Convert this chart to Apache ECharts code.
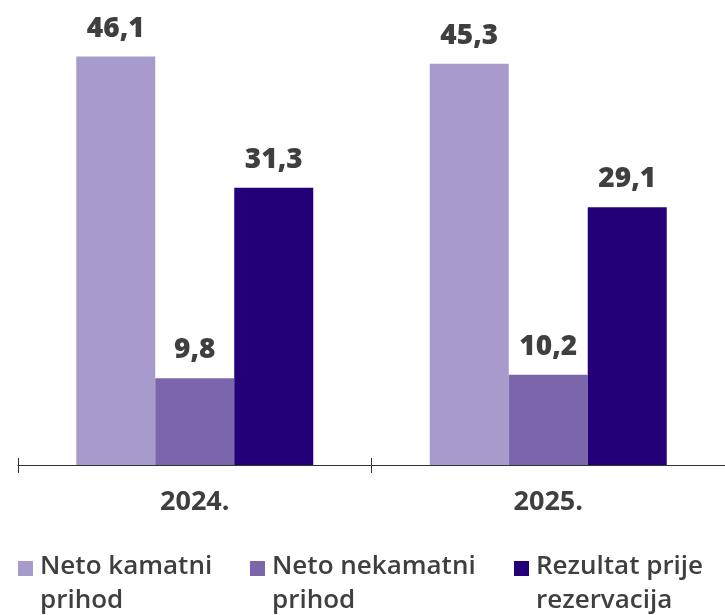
<!DOCTYPE html>
<html>
<head>
<meta charset="utf-8">
<script src="https://cdn.jsdelivr.net/npm/echarts@6/dist/echarts.min.js"></script>
<style>
  html, body { margin: 0; padding: 0; background: #fff; }
  #chart { width: 725px; height: 615px; }
</style>
</head>
<body>
<div id="chart"></div>
<script>
// podaci
const years = ['2024.', '2025.'];
const seriesNames = ['Neto kamatni\nprihod', 'Neto nekamatni\nprihod', 'Rezultat prije\nrezervacija'];
const netoKamatni = [46.1, 45.3];
const netoNekamatni = [9.8, 10.2];
const rezultatPrije = [31.3, 29.1];

const colors = ['#A89BCB', '#7B66AB', '#230078'];
const textColor = '#3F3F3F';
const fontFamily = '"Open Sans", "Noto Sans", sans-serif';

const chart = echarts.init(document.getElementById('chart'));

function fmt(v) {
    return v.toFixed(1).replace('.', ',');
}

function makeSeries(name, data, color) {
    return {
        name: name,
        type: 'bar',
        data: data,
        barWidth: 79,
        barGap: '0%',
        itemStyle: { color: color },
        label: {
            show: true,
            position: 'top',
            distance: 14,
            color: textColor,
            fontFamily: fontFamily,
            fontWeight: 800,
            fontSize: 28,
            formatter: (p) => fmt(p.value)
        }
    };
}

// legenda kao graficki elementi (ikona uz prvi red teksta)
const legendLeft = [18, 250, 514];
const legendGraphic = [];
seriesNames.forEach((n, i) => {
    legendGraphic.push({
        type: 'rect',
        left: legendLeft[i],
        top: 561,
        shape: { width: 15, height: 15 },
        style: { fill: colors[i] }
    });
    legendGraphic.push({
        type: 'text',
        left: legendLeft[i] + 22,
        top: 550,
        style: {
            text: n,
            fill: textColor,
            font: '600 26px ' + fontFamily,
            lineHeight: 34
        }
    });
});

const option = {
    animation: false,
    color: colors,
    graphic: legendGraphic,
    grid: {
        left: 18,
        right: 0,
        top: 22,
        bottom: 150
    },
    xAxis: [
        {
            type: 'category',
            data: years,
            axisLine: { lineStyle: { color: '#333', width: 1 } },
            axisTick: { show: true, length: 8, lineStyle: { color: '#333' } },
            axisLabel: {
                color: textColor,
                fontFamily: fontFamily,
                fontWeight: 'bold',
                fontSize: 27,
                margin: 24
            }
        },
        {
            type: 'category',
            data: years,
            position: 'bottom',
            axisLine: { show: false },
            axisTick: { show: true, inside: true, length: 7, lineStyle: { color: '#333' } },
            axisLabel: { show: false }
        }
    ],
    yAxis: {
        type: 'value',
        min: 0,
        max: 50,
        show: false,
        splitLine: { show: false }
    },
    series: [
        makeSeries(seriesNames[0], netoKamatni, colors[0]),
        makeSeries(seriesNames[1], netoNekamatni, colors[1]),
        makeSeries(seriesNames[2], rezultatPrije, colors[2])
    ]
};

chart.setOption(option);

window.addEventListener('resize', () => {
    chart.resize();
});
</script>
</body>
</html>
